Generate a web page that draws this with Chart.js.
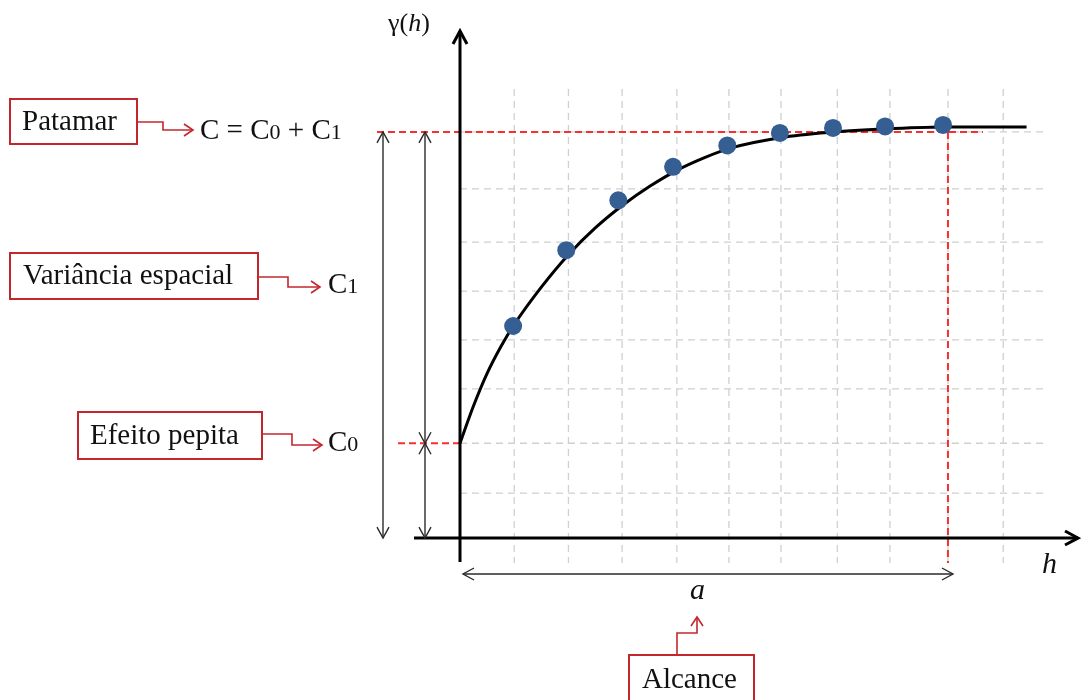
<!DOCTYPE html>
<html>
<head>
<meta charset="utf-8">
<script src="https://cdn.jsdelivr.net/npm/chart.js@4.4.1/dist/chart.umd.min.js"></script>
<style>
  html, body { margin: 0; padding: 0; background: #fff; }
</style>
</head>
<body>
<canvas id="chart" width="1081" height="700"></canvas>
<script>
// Fitted model curve (h, gamma)
const curveH     = [0, 0.25, 0.5, 0.75, 1.0, 1.5, 2.0, 2.5, 3.0, 3.5, 4.0, 4.5, 5.0, 6.0, 7.0, 8.0, 9.0, 10.45];
const curveGamma = [1.9, 2.65, 3.3, 3.83, 4.28, 5.03, 5.68, 6.22, 6.67, 7.05, 7.37, 7.62, 7.82, 8.04, 8.15, 8.21, 8.24, 8.24];

// Experimental semivariogram points
const pointH     = [0.98, 1.96, 2.92, 3.93, 4.93, 5.9, 6.88, 7.84, 8.91];
const pointGamma = [4.25, 5.77, 6.77, 7.44, 7.87, 8.12, 8.22, 8.25, 8.28];

// Grid line positions
const gridH     = [1, 2, 2.99, 4, 4.96, 5.92, 6.96, 7.93, 9, 10.02];
const gridGamma = [0.9, 1.9, 2.99, 3.97, 4.95, 5.93, 7.0, 8.14];

// Model parameters
const nugget = 1.9;   // C0
const sill = 8.14;    // C = C0 + C1
const range = 9.0;    // a

const RED = '#c3272e';
const SERIF = '"Liberation Serif", "Times New Roman", serif';

// open chevron arrow head
function arrowHead(ctx, x, y, angle, len, half) {
    ctx.beginPath();
    ctx.moveTo(x - len * Math.cos(angle) + half * Math.sin(angle), y - len * Math.sin(angle) - half * Math.cos(angle));
    ctx.lineTo(x, y);
    ctx.lineTo(x - len * Math.cos(angle) - half * Math.sin(angle), y - len * Math.sin(angle) + half * Math.cos(angle));
    ctx.stroke();
}

function line(ctx, x1, y1, x2, y2) {
    ctx.beginPath();
    ctx.moveTo(x1, y1);
    ctx.lineTo(x2, y2);
    ctx.stroke();
}

// double headed dimension arrow
function dimArrow(ctx, x1, y1, x2, y2) {
    const ang = Math.atan2(y2 - y1, x2 - x1);
    line(ctx, x1, y1, x2, y2);
    arrowHead(ctx, x2, y2, ang, 11, 6);
    arrowHead(ctx, x1, y1, ang + Math.PI, 11, 6);
}

// text made of pieces with different sizes / styles
function drawParts(ctx, parts, x, y) {
    parts.forEach(function(p) {
        ctx.font = (p.italic ? 'italic ' : '') + p.size + 'px ' + SERIF;
        ctx.fillText(p.t, x, y);
        x += ctx.measureText(p.t).width;
    });
}

function labelBox(ctx, rx, ry, rw, rh, text, tx, ty) {
    ctx.strokeStyle = RED;
    ctx.lineWidth = 2;
    ctx.strokeRect(rx, ry, rw, rh);
    ctx.fillStyle = '#111';
    ctx.font = '29px ' + SERIF;
    ctx.fillText(text, tx, ty);
}

// red stepped connector ending in an arrow
function connector(ctx, pts) {
    ctx.strokeStyle = RED;
    ctx.lineWidth = 1.6;
    ctx.beginPath();
    ctx.moveTo(pts[0][0], pts[0][1]);
    for (let i = 1; i < pts.length; i++) ctx.lineTo(pts[i][0], pts[i][1]);
    ctx.stroke();
    const a = pts[pts.length - 2], b = pts[pts.length - 1];
    arrowHead(ctx, b[0], b[1], Math.atan2(b[1] - a[1], b[0] - a[0]), 9, 6);
}

const diagramPlugin = {
    id: 'diagram',
    beforeDatasetsDraw(chart) {
        const ctx = chart.ctx;
        const x = chart.scales.x, y = chart.scales.y;
        const area = chart.chartArea;
        const px = v => x.getPixelForValue(v);
        const py = v => y.getPixelForValue(v);

        ctx.save();
        // dashed grid
        ctx.strokeStyle = '#d0d0d0';
        ctx.lineWidth = 1.3;
        ctx.setLineDash([7, 5]);
        gridH.forEach(v => line(ctx, px(v), area.top, px(v), area.bottom));
        gridGamma.forEach(v => line(ctx, px(0), py(v), area.right, py(v)));

        // red reference lines
        ctx.strokeStyle = '#f5302f';
        ctx.lineWidth = 2;
        ctx.setLineDash([7, 4]);
        line(ctx, 377, py(sill), px(range) + 35, py(sill));
        line(ctx, px(range), py(sill), px(range), area.bottom);
        line(ctx, 398, py(nugget), px(0), py(nugget));
        ctx.setLineDash([]);

        // axes
        ctx.strokeStyle = '#000';
        ctx.lineWidth = 3;
        line(ctx, px(0), area.bottom - 1, px(0), 31);
        arrowHead(ctx, px(0), 31, -Math.PI / 2, 13, 7);
        line(ctx, 414, py(0), 1078, py(0));
        arrowHead(ctx, 1078, py(0), 0, 13, 7);

        // dimension arrows
        ctx.strokeStyle = '#2a2a2a';
        ctx.lineWidth = 1.4;
        dimArrow(ctx, 383, py(sill), 383, py(0));
        dimArrow(ctx, 425, py(sill), 425, py(nugget));
        dimArrow(ctx, 425, py(nugget), 425, py(0));
        dimArrow(ctx, px(0) + 3, 574, px(range) + 5, 574);
        ctx.restore();
    },
    afterDraw(chart) {
        const ctx = chart.ctx;
        ctx.save();
        ctx.fillStyle = '#111';
        ctx.textBaseline = 'alphabetic';

        // axis labels
        drawParts(ctx, [{t: 'γ(', size: 26}, {t: 'h', size: 26, italic: true}, {t: ')', size: 26}], 388, 31);
        ctx.font = 'italic 30px ' + SERIF;
        ctx.fillText('h', 1042, 573);
        ctx.fillText('a', 690, 599);

        // annotation boxes
        labelBox(ctx, 10, 99, 127, 45, 'Patamar', 22, 130);
        labelBox(ctx, 10, 253, 248, 46, 'Variância espacial', 23, 284);
        labelBox(ctx, 78, 412, 184, 47, 'Efeito pepita', 90, 444);
        labelBox(ctx, 629, 655, 125, 50, 'Alcance', 642, 688);

        connector(ctx, [[137, 122], [163, 122], [163, 130], [193, 130]]);
        connector(ctx, [[258, 277], [288, 277], [288, 287], [320, 287]]);
        connector(ctx, [[262, 434], [292, 434], [292, 445], [322, 445]]);
        connector(ctx, [[677, 655], [677, 633], [697, 633], [697, 617]]);

        ctx.fillStyle = '#111';
        drawParts(ctx, [{t: 'C = C', size: 29}, {t: '0', size: 22}, {t: ' + C', size: 29}, {t: '1', size: 22}], 200, 139);
        drawParts(ctx, [{t: 'C', size: 29}, {t: '1', size: 22}], 328, 293);
        drawParts(ctx, [{t: 'C', size: 29}, {t: '0', size: 22}], 328, 451);
        ctx.restore();
    }
};

const curveData = curveH.map((h, i) => ({x: h, y: curveGamma[i]}));
const pointData = pointH.map((h, i) => ({x: h, y: pointGamma[i]}));

new Chart(document.getElementById('chart'), {
    type: 'scatter',
    data: {
        datasets: [
            {
                label: 'Semivariograma experimental',
                data: pointData,
                showLine: false,
                pointRadius: 9,
                pointBackgroundColor: '#355e92',
                pointBorderWidth: 0,
                order: 0
            },
            {
                label: 'Modelo',
                data: curveData,
                showLine: true,
                borderColor: '#000',
                borderWidth: 3,
                pointRadius: 0,
                cubicInterpolationMode: 'monotone',
                clip: false,
                order: 1
            }
        ]
    },
    options: {
        responsive: false,
        animation: false,
        layout: { padding: { left: 460, right: 36, top: 89, bottom: 137 } },
        scales: {
            x: { type: 'linear', display: false, min: 0, max: 10.79 },
            y: { type: 'linear', display: false, min: -0.5, max: 9.0 }
        },
        plugins: {
            legend: { display: false },
            tooltip: { enabled: false }
        }
    },
    plugins: [diagramPlugin]
});
</script>
</body>
</html>
